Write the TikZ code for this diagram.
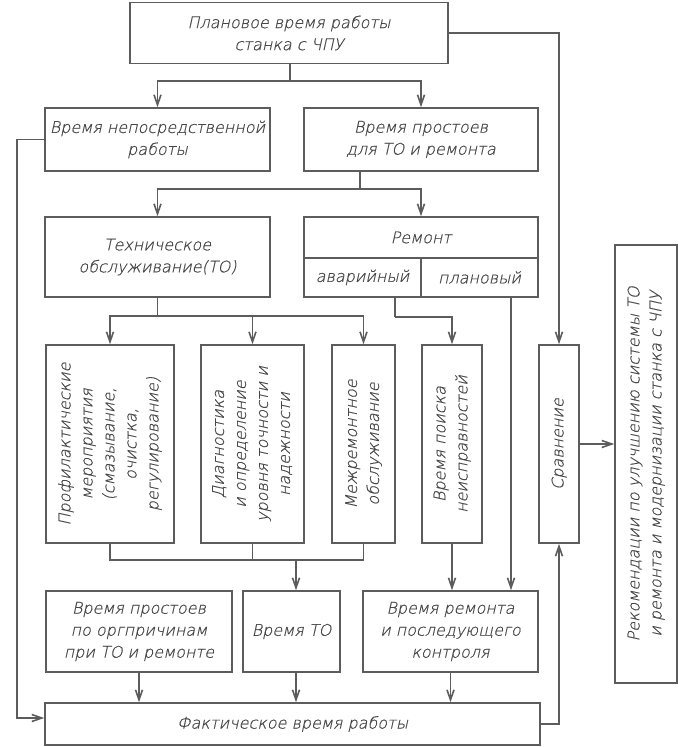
\documentclass[tikz,border=0pt]{standalone}
\usepackage{fontspec}
\setmainfont{DejaVu Sans}
\newfontfamily\gost[FakeSlant=0.22, FakeBold=0.6]{DejaVu Sans ExtraLight}
\usepackage{tikz}
\usetikzlibrary{arrows.meta, calc, positioning}
\definecolor{ink}{RGB}{92,92,92}
\definecolor{pen}{RGB}{70,70,70}
\tikzset{
    blk/.style args={#1 #2}{
        draw=ink, line width=1.6pt, rectangle, inner sep=0pt, align=center,
        minimum width=#1, minimum height=#2, text=pen,
        font=\gost\fontsize{16}{22}\selectfont
    },
    lnk/.style={draw=ink, line width=1.6pt},
    arr/.style={lnk, -{Straight Barb[length=10pt, width=7pt]}}
}
\newcommand{\vtxt}[1]{\rotatebox{90}{\begin{tabular}{@{}c@{}}#1\end{tabular}}}

\begin{document}
\begin{tikzpicture}[x=1pt, y=-1pt]
    \useasboundingbox (0,0) rectangle (682,747);
    % boxes
    \node[blk=318 61] (plan) at (289,33) {Плановое время работы\\станка с ЧПУ};
    \node[blk=225 63] (direct) at (157.5,139.5) {Время непосредственной\\работы};
    \node[blk=234 63] (idle) at (421,139.5) {Время простоев\\для ТО и ремонта};
    \node[blk=225 80] (to) at (157.5,257) {Техническое\\обслуживание(ТО)};
    \node[blk=234 41] (rephead) at (421,237.5) {Ремонт};
    \node[blk=117 39] (repemerg) at (362.5,277.5) {аварийный};
    \node[blk=117 39] (repplan) at (479.5,277.5) {плановый};
    \node[blk=128 198] (prof) at (110,444) {\vtxt{Профилактические\\мероприятия\\(смазывание,\\очистка,\\регулирование)}};
    \node[blk=103 198] (diag) at (252.5,444) {\vtxt{Диагностика\\и определение\\уровня точности и\\надежности}};
    \node[blk=63 198] (inter) at (363.5,444) {\vtxt{Межремонтное\\обслуживание}};
    \node[blk=60 198] (search) at (452,444) {\vtxt{Время поиска\\неисправностей}};
    \node[blk=40 198] (compare) at (559,444) {\vtxt{Сравнение}};
    \node[blk=62 438] (recom) at (646,464) {\vtxt{Рекомендации по улучшению системы ТО\\и ремонта и модернизации станка с ЧПУ}};
    \node[blk=186 81] (orgidle) at (139,631.5) {Время простоев\\по оргпричинам\\при ТО и ремонте};
    \node[blk=97 81] (totime) at (291.5,631.5) {Время ТО};
    \node[blk=175 81] (reptime) at (450.5,631.5) {Время ремонта\\и последующего\\контроля};
    \node[blk=495 42] (actual) at (292.5,724) {Фактическое время работы};
    % connectors
    \coordinate (sp1) at (290,81);
    \coordinate (sp2) at (360,189);
    \coordinate (sp3) at ($(to.south)+(0,18)$);
    \coordinate (sp4) at (395,317);
    \coordinate (sp5) at (296,560);
    \coordinate (pl) at (511,0);
    \coordinate (lb) at (17,718);
    \draw[lnk] (plan.south -| sp1) -- (sp1);
    \draw[arr] (sp1) -| (direct.north);
    \draw[arr] (sp1) -| (idle.north);
    \draw[arr] (plan.east) -| (compare.north);
    \draw[arr] (direct.west) -| (lb) -- (actual.west |- lb);
    \draw[lnk] (idle.south -| sp2) -- (sp2);
    \draw[arr] (sp2) -| (to.north);
    \draw[arr] (sp2) -| (rephead.north);
    \draw[lnk] (to.south) -- (sp3);
    \draw[arr] (sp3) -| (prof.north);
    \draw[arr] (sp3) -| (diag.north);
    \draw[arr] (sp3) -| (inter.north);
    \draw[lnk] (repemerg.south -| sp4) -- (sp4);
    \draw[arr] (sp4) -| (search.north);
    \draw[arr] (repplan.south -| pl) -- (reptime.north -| pl);
    \draw[arr] (compare.east) -- (recom.west |- compare.east);
    \draw[lnk] (prof.south) |- (sp5) -| (inter.south);
    \draw[lnk] (diag.south) -- (diag.south |- sp5);
    \draw[arr] (sp5) -- (totime.north -| sp5);
    \draw[arr] (search.south) -- (reptime.north -| search.south);
    \draw[arr] (orgidle.south) -- (actual.north -| orgidle.south);
    \draw[arr] (totime.south -| sp5) -- (actual.north -| sp5);
    \draw[arr] (reptime.south) -- (actual.north -| reptime.south);
    \draw[arr] (actual.east) -| (compare.south);
\end{tikzpicture}
\end{document}
